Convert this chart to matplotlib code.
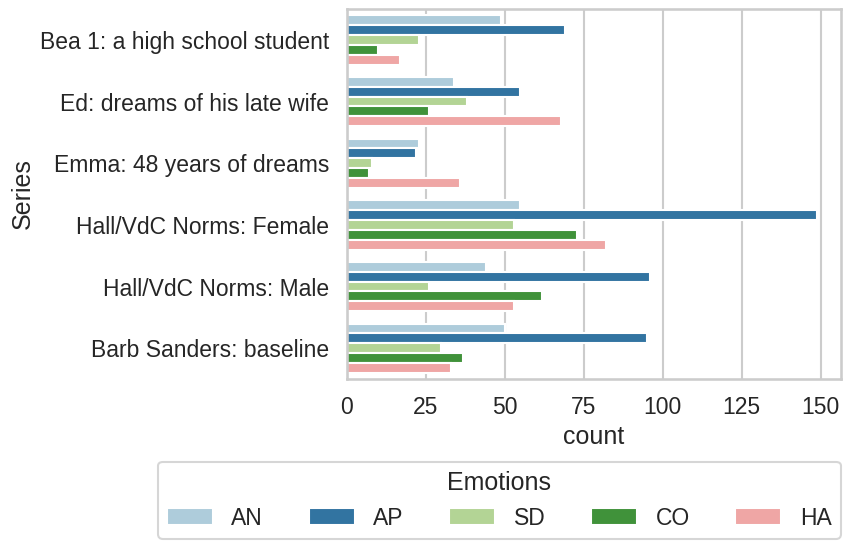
import pandas as pd
import seaborn as sns
import matplotlib
matplotlib.use('Agg')
import matplotlib.pyplot as plt

series = ['Bea 1: a high school student',
          'Ed: dreams of his late wife',
          'Emma: 48 years of dreams',
          'Hall/VdC Norms: Female',
          'Hall/VdC Norms: Male',
          'Barb Sanders: baseline']
emotions = ['AN', 'AP', 'SD', 'CO', 'HA']

an = [49, 34, 23, 55, 44, 50]
ap = [69, 55, 22, 149, 96, 95]
sd = [23, 38, 8, 53, 26, 30]
co = [10, 26, 7, 73, 62, 37]
ha = [17, 68, 36, 82, 53, 33]

rows = []
for emo, vals in zip(emotions, [an, ap, sd, co, ha]):
    for s, v in zip(series, vals):
        rows.append({'Series': s, 'Emotions': emo, 'count': v})
df = pd.DataFrame(rows)

sns.set_theme(context='talk', style='whitegrid')
plt.rcParams['font.family'] = ['Liberation Sans', 'DejaVu Sans']

fig, ax = plt.subplots(figsize=(8.51, 5.47), dpi=100)
fig.subplots_adjust(left=0.4072, right=0.9882, top=0.9835, bottom=0.3071)

sns.barplot(data=df, y='Series', x='count', hue='Emotions',
            order=series, hue_order=emotions, palette='Paired', ax=ax)

ax.legend(title='Emotions', loc='upper center',
          bbox_to_anchor=(0.309, -0.224), ncol=5, borderaxespad=0)

fig.savefig('out.png', dpi=100)
